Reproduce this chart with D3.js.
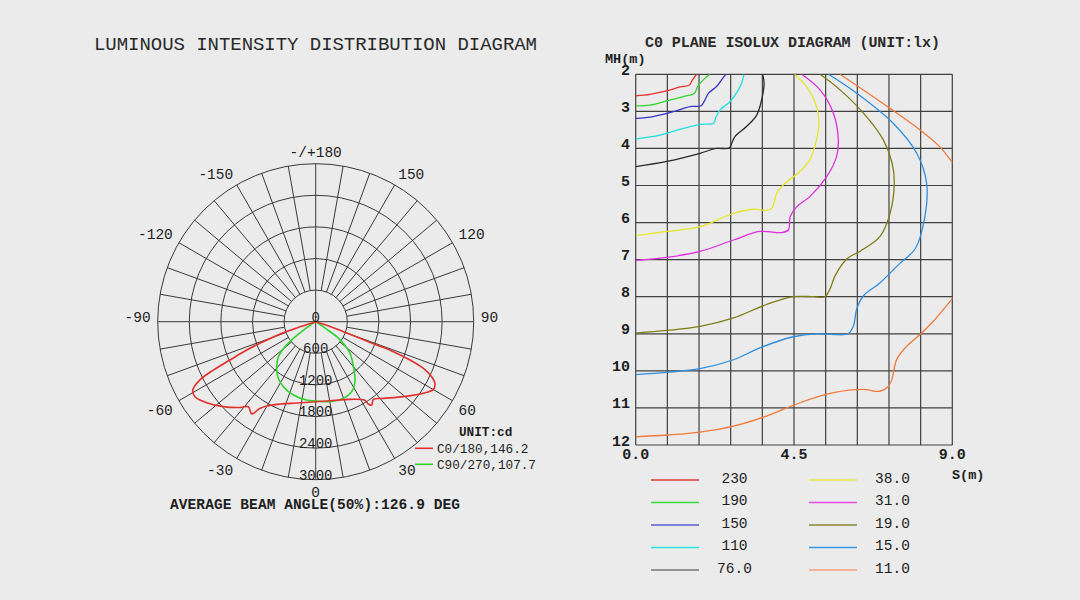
<!DOCTYPE html>
<html><head><meta charset="utf-8">
<script src="https://cdn.jsdelivr.net/npm/d3@7"></script>
<style>
html,body{margin:0;padding:0;background:#ebebeb;}
svg{display:block;font-family:"Liberation Mono","DejaVu Sans Mono",monospace;}
</style></head>
<body>
<svg id="c" width="1080" height="600"></svg>
<script>
// ---------- DATA ----------
// Polar: [angle deg (0 = down, + = right), intensity cd]
const polarRings = [600, 1200, 1800, 2400, 3000];
const polarAngleLabels = [
  [0, "0"], [30, "30"], [60, "60"], [90, "90"], [120, "120"], [150, "150"],
  [180, "-/+180"], [-150, "-150"], [-120, "-120"], [-90, "-90"], [-60, "-60"], [-30, "-30"]
];
const curveC0 = [
  [-73.5, 0], [-72, 300], [-71, 700], [-69.1, 1063], [-67.7, 1416], [-65.9, 1783], [-64.7, 2149],
  [-63.3, 2460], [-60.9, 2672], [-58.1, 2700], [-53.4, 2579], [-47.4, 2383], [-41.4, 2171],
  [-38.4, 2059], [-34.8, 2130], [-32.8, 1960], [-30.2, 1851], [-23.4, 1704], [-13.2, 1586],
  [0, 1520], [10.3, 1525], [23.8, 1612], [32.0, 1757], [32.6, 1861], [33.9, 1906], [36.6, 1838],
  [41.4, 1942], [49.5, 2191], [56.4, 2457], [60.1, 2578], [62.4, 2556], [64.6, 2438],
  [66.6, 2229], [67.9, 1933], [68.9, 1581], [69.1, 1240], [69.4, 900], [70.1, 559], [72, 250], [73.5, 0]
];
const curveC90 = [
  [-57, 0], [-55.5, 280], [-53.2, 529], [-50.4, 796], [-46.8, 971], [-40.9, 1131], [-34.6, 1269],
  [-26.4, 1379], [-16.9, 1455], [-6.6, 1497], [0, 1506], [10.1, 1543], [19.8, 1548], [28.4, 1475],
  [34, 1335], [40, 1114], [47.3, 887], [51.9, 668], [54.5, 490], [55.5, 250], [57, 0]
];
const polarLegend = ["C0/180,146.2", "C90/270,107.7"];

// Isolux: [S (m), MH (m)]
const isoXTicks = [0, 4.5, 9];
const isoYTicks = [2, 3, 4, 5, 6, 7, 8, 9, 10, 11, 12];
const isoLevels = ["230", "190", "150", "110", "76.0", "38.0", "31.0", "19.0", "15.0", "11.0"];
const iso230 = [[0,2.58],[0.41,2.54],[0.88,2.45],[1.26,2.34],[1.53,2.29],[1.6,2.17],[1.73,2.0]];
const iso190 = [[0,2.85],[0.41,2.83],[0.88,2.72],[1.35,2.6],[1.67,2.51],[1.76,2.33],[1.92,2.15],[2.11,2.0]];
const iso150 = [[0,3.19],[0.5,3.14],[1.07,3.01],[1.54,2.87],[1.86,2.85],[1.97,2.69],[2.07,2.51],[2.30,2.33],[2.44,2.15],[2.56,2.0]];
const iso110 = [[0,3.74],[0.69,3.64],[1.35,3.46],[1.83,3.35],[2.21,3.32],[2.28,3.16],[2.40,2.96],[2.68,2.74],[2.92,2.42],[3.01,2.24],[3.08,2.0]];
const iso76 = [[0,4.49],[0.88,4.35],[1.83,4.13],[2.30,4.0],[2.66,3.99],[2.73,3.86],[2.82,3.68],[3.15,3.41],[3.44,3.10],[3.58,2.69],[3.65,2.24],[3.61,2.0]];
const iso38 = [[4.51,2.0],[4.86,2.33],[5.14,2.87],[5.21,3.32],[5.14,3.77],[4.95,4.31],[4.67,4.62],[4.20,4.98],[4.01,5.21],[3.87,5.61],[3.72,5.67],[3.34,5.64],[2.78,5.75],[1.83,6.11],[0.88,6.24],[0,6.35]];
const iso31 = [[4.72,2.0],[5.24,2.42],[5.62,3.05],[5.76,3.77],[5.71,4.22],[5.43,4.76],[4.95,5.30],[4.58,5.57],[4.39,5.84],[4.34,6.20],[4.15,6.27],[3.53,6.24],[2.78,6.47],[1.83,6.78],[0.88,6.94],[0,7.02]];
const iso19 = [[5.24,2.0],[5.81,2.42],[6.56,3.14],[7.04,3.77],[7.29,4.40],[7.35,4.94],[7.23,5.75],[6.94,6.38],[6.4,6.76],[6.0,6.98],[5.67,7.43],[5.52,7.80],[5.38,8.0],[5.05,8.0],[4.48,8.0],[3.72,8.21],[2.78,8.57],[1.83,8.80],[0.88,8.91],[0,8.98]];
const iso15 = [[5.48,2.0],[6.28,2.51],[7.32,3.32],[7.99,4.13],[8.27,4.94],[8.22,5.84],[7.95,6.7],[7.51,7.10],[6.94,7.63],[6.47,7.98],[6.28,8.34],[6.19,8.79],[6.04,9.0],[5.62,9.02],[5.14,9.0],[4.48,9.08],[3.53,9.38],[2.78,9.70],[1.83,9.94],[0.88,10.04],[0,10.10]];
const iso11a = [[5.81,2.0],[7.23,2.92],[8.08,3.50],[8.64,3.95],[9.0,4.37],[9.3,4.7]];
const iso11b = [[9.3,7.7],[9.0,8.05],[8.46,8.66],[8.08,9.02],[7.70,9.34],[7.42,9.69],[7.28,10.24],[7.18,10.42],[6.94,10.55],[6.47,10.50],[5.62,10.59],[4.67,10.86],[3.72,11.22],[2.78,11.49],[1.83,11.65],[0.88,11.73],[0,11.78]];

// ---------- STYLE ----------
const isoColors = ["#e8332f","#2fd62f","#3434cc","#22dede","#2a2a2a","#e6e62a","#e02ee0","#7d7d14","#2e8ee0","#f07a3a"];
const isoLegendColors = ["#e03a3a","#3ad83a","#5a5ad8","#30e0e0","#777777","#e4e43c","#e44ce4","#8a8a3a","#3d96e0","#eea27e"];
const txt = "#1e1e1e";

const svg = d3.select("#c");

// ---------- POLAR ----------
const cx = 315.7, cy = 321.7;
const r = d3.scaleLinear().domain([0, 3000]).range([0, 158]);
const ang = a => Math.PI - a * Math.PI / 180;
const gP = svg.append("g").attr("transform", `translate(${cx},${cy})`);

gP.selectAll("circle.ring").data(polarRings).join("circle")
  .attr("r", d => r(d)).attr("fill", "none").attr("stroke", "#3a3a3a").attr("stroke-width", 1);

const spokes = d3.range(-170, 190, 10).filter(a => a % 90 !== 0);
gP.selectAll("line.spoke").data(spokes).join("line")
  .attr("x1", d => r(600) * Math.sin(ang(d))).attr("y1", d => -r(600) * Math.cos(ang(d)))
  .attr("x2", d => r(3000) * Math.sin(ang(d))).attr("y2", d => -r(3000) * Math.cos(ang(d)))
  .attr("stroke", "#3a3a3a").attr("stroke-width", 1);
gP.append("line").attr("x1", -r(3000)).attr("x2", r(3000)).attr("stroke", "#3a3a3a");
gP.append("line").attr("y1", -r(3000)).attr("y2", r(3000)).attr("stroke", "#3a3a3a");

const radial = d3.lineRadial().angle(d => ang(d[0])).radius(d => r(d[1])).curve(d3.curveCatmullRom.alpha(0.5));
gP.append("path").attr("d", radial(curveC90)).attr("fill", "none").attr("stroke", "#2ed42e").attr("stroke-width", 1.6);
gP.append("path").attr("d", radial(curveC0)).attr("fill", "none").attr("stroke", "#e2302c").attr("stroke-width", 1.6);

// ring labels
gP.selectAll("text.rl").data([0].concat(polarRings)).join("text")
  .attr("x", 0).attr("y", d => r(d)).attr("text-anchor", "middle")
  .attr("font-size", 14).attr("fill", txt).text(d => d);

// angle labels: anchored at a point just outside the outer ring
const labR = 165;
gP.selectAll("text.al").data(polarAngleLabels).join("text")
  .attr("x", d => labR * Math.sin(ang(d[0])))
  .attr("y", d => -labR * Math.cos(ang(d[0])))
  .attr("dy", d => Math.abs(d[0]) < 90 || d[0] === 0 ? 10.5 : 0)
  .attr("text-anchor", d => { const s = Math.sin(ang(d[0])); return s > 0.01 ? "start" : (s < -0.01 ? "end" : "middle"); })
  .attr("font-size", 14.5).attr("fill", txt).text(d => d[1]);

// titles
svg.append("text").attr("x", 315.5).attr("y", 50).attr("text-anchor", "middle")
  .attr("font-size", 19).attr("fill", "#2a2a2a").attr("textLength", 443).attr("lengthAdjust", "spacing")
  .text("LUMINOUS INTENSITY DISTRIBUTION DIAGRAM");
svg.append("text").attr("x", 315).attr("y", 509).attr("text-anchor", "middle")
  .attr("font-size", 14.5).attr("font-weight", "bold").attr("fill", txt).attr("textLength", 290).attr("lengthAdjust", "spacing")
  .text("AVERAGE BEAM ANGLE(50%):126.9 DEG");

// polar legend
svg.append("text").attr("x", 459).attr("y", 436).attr("font-size", 12.7).attr("font-weight", "bold").attr("fill", txt).text("UNIT:cd");
const plC = ["#e2302c", "#2ed42e"];
polarLegend.forEach((t, i) => {
  const y = 448.3 + i * 16;
  svg.append("line").attr("x1", 415).attr("x2", 433).attr("y1", y).attr("y2", y).attr("stroke", plC[i]).attr("stroke-width", 1.6);
  svg.append("text").attr("x", 437).attr("y", y + 4.3).attr("font-size", 12.7).attr("fill", txt).text(t);
});

// ---------- ISOLUX ----------
const x = d3.scaleLinear().domain([0, 9]).range([635.7, 952.3]);
const y = d3.scaleLinear().domain([2, 12]).range([74.3, 445]);
const gI = svg.append("g");
gI.selectAll("line.v").data(d3.range(0, 11).map(i => i * 0.9)).join("line")
  .attr("x1", d => x(d)).attr("x2", d => x(d)).attr("y1", y(2)).attr("y2", y(12))
  .attr("stroke", "#404040").attr("stroke-width", 1.2);
gI.selectAll("line.h").data(isoYTicks).join("line")
  .attr("y1", d => y(d)).attr("y2", d => y(d)).attr("x1", x(0)).attr("x2", x(9))
  .attr("stroke", "#404040").attr("stroke-width", 1.2);

svg.append("defs").append("clipPath").attr("id", "isoclip")
  .append("rect").attr("x", x(0)).attr("y", y(2)).attr("width", x(9) - x(0)).attr("height", y(12) - y(2));
const isoLine = d3.line().x(d => x(d[0])).y(d => y(d[1])).curve(d3.curveCatmullRom.alpha(0.5));
const isoSeries = [[iso230], [iso190], [iso150], [iso110], [iso76], [iso38], [iso31], [iso19], [iso15], [iso11a, iso11b]];
const gC = svg.append("g").attr("clip-path", "url(#isoclip)");
isoSeries.forEach((segs, i) => {
  segs.forEach(s => gC.append("path").attr("d", isoLine(s)).attr("fill", "none")
    .attr("stroke", isoColors[i]).attr("stroke-width", 1.3));
});

// axis labels
svg.selectAll("text.yt").data(isoYTicks).join("text")
  .attr("x", 630).attr("y", d => y(d) + 0.5).attr("text-anchor", "end")
  .attr("font-size", 15).attr("font-weight", "bold").attr("fill", txt).text(d => d);
svg.selectAll("text.xt").data(isoXTicks).join("text")
  .attr("x", d => x(d)).attr("y", 459).attr("text-anchor", "middle")
  .attr("font-size", 15).attr("font-weight", "bold").attr("fill", txt).text(d => d.toFixed(1));
svg.append("text").attr("x", 605).attr("y", 62.5).attr("font-size", 13.5).attr("font-weight", "bold").attr("fill", txt).text("MH(m)");
svg.append("text").attr("x", 952).attr("y", 479).attr("font-size", 13.5).attr("font-weight", "bold").attr("fill", txt).text("S(m)");
svg.append("text").attr("x", 792.5).attr("y", 47).attr("text-anchor", "middle")
  .attr("font-size", 15).attr("font-weight", "bold").attr("fill", "#2a2a2a").attr("textLength", 295).attr("lengthAdjust", "spacing")
  .text("C0 PLANE ISOLUX DIAGRAM (UNIT:lx)");

// isolux legend
isoLevels.forEach((t, i) => {
  const col = Math.floor(i / 5), row = i % 5;
  const lx = col ? 809 : 651, tx = col ? 892.5 : 734.5;
  const ly = 480 + row * 22.5;
  svg.append("line").attr("x1", lx).attr("x2", lx + 48).attr("y1", ly).attr("y2", ly)
    .attr("stroke", isoLegendColors[i]).attr("stroke-width", 1.4);
  svg.append("text").attr("x", tx).attr("y", ly + 2.7).attr("text-anchor", "middle")
    .attr("font-size", 14.5).attr("fill", txt).text(t);
});
</script>
</body></html>
